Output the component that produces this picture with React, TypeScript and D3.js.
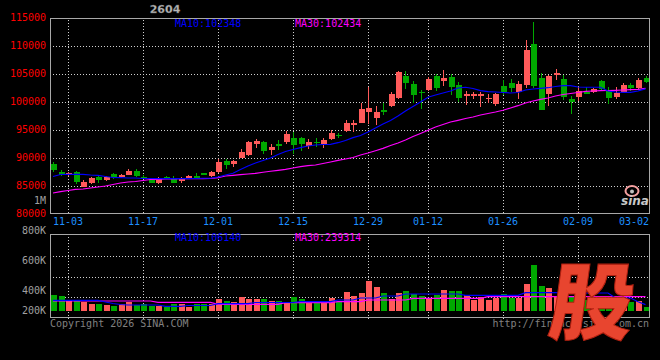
import React from "react";
import * as d3 from "d3";

const dates = [
  "10-30","10-31",
  "11-03","11-04","11-05","11-06","11-07","11-10","11-11","11-12","11-13","11-14",
  "11-17","11-18","11-19","11-20","11-21","11-24","11-25","11-26","11-27","11-28",
  "12-01","12-02","12-03","12-04","12-05","12-08","12-09","12-10","12-11","12-12",
  "12-15","12-16","12-17","12-18","12-19","12-22","12-23","12-24","12-25","12-26",
  "12-29","12-30","12-31",
  "01-05","01-06","01-07","01-08","01-09","01-12","01-13","01-14","01-15","01-16",
  "01-19","01-20","01-21","01-22","01-23","01-26","01-27","01-28","01-29","01-30",
  "02-02","02-03","02-04","02-05","02-06","02-09","02-10","02-11","02-12","02-13",
  "02-24","02-25","02-26","02-27","03-02"
];

const open = [88930,87500,87090,87500,84820,85480,86550,86070,87090,86550,86960,87730,86660,86300,85590,86660,86300,85950,86300,86790,87270,86840,87500,89460,88980,90000,90540,92550,92860,91430,92500,92860,93630,93630,92200,92860,92450,93390,94160,94820,95890,96300,98210,97200,98520,99290,100710,104640,103210,101840,102140,104700,103800,104460,102980,101070,101070,101070,100590,99730,102860,103390,101790,103040,110360,104290,101430,104820,104110,100540,100890,101840,101730,103750,102230,100890,101840,103040,102550,104340];
const high = [89290,87860,87450,87680,86070,86610,86790,86790,87270,87200,87980,88090,86960,86430,86660,86840,86790,86550,87020,87270,87380,87730,89770,89880,89590,91610,93040,93390,93040,92450,93210,94820,94590,93750,93390,93630,93520,95000,94520,96790,96730,99880,102730,99290,99880,101840,105540,105540,103800,102140,104520,104950,105710,105000,103520,101960,101790,101790,101380,101660,103930,104050,103750,111070,114230,105130,104820,105890,104820,101070,102680,102630,102550,103930,102680,102730,103340,103450,104340,104700];
const low = [87500,86790,86790,85360,84820,85360,85590,85950,86250,86430,86910,86660,86200,85480,85360,86300,85480,85590,86200,86200,86910,86610,87270,88090,88390,89950,90360,91730,90770,90540,91430,92550,90660,91250,91610,91960,91840,93270,93630,94700,94700,96200,96070,95890,97680,99160,100590,102380,99880,98800,102020,102020,102860,101200,100000,99460,100540,99160,99770,99290,101250,101730,100540,102500,102450,98570,99340,103880,100410,97860,100180,101380,101550,102140,99590,100540,101550,101960,102320,103340];
const close = [87860,86960,87320,85710,85710,86480,86070,86660,86610,87020,87730,86790,86430,85590,86300,86480,85590,86300,86730,86300,86960,87550,89340,88750,89410,91070,92860,93040,91250,92020,92200,94290,92320,92450,92910,92680,93270,94460,93930,96250,96250,98750,98930,98210,98210,101430,105360,103450,101200,101550,104110,102500,104290,102680,100800,101380,101380,101430,100800,101430,101840,102500,103160,109290,102860,98570,104640,105180,100950,100050,101880,101480,102320,102320,100630,101610,103040,102450,103930,103570];
const volume = [267200,250500,172000,183700,155300,116900,116900,100200,83500,116900,155300,100200,116900,83500,83500,71800,116900,116900,71800,116900,116900,116900,200400,167000,155300,233800,200400,200400,200400,167000,167000,155300,233800,200400,155300,155300,155300,217100,155300,317300,250500,300600,501000,400800,300600,200400,300600,334000,283900,250500,200400,262200,350700,334000,334000,267200,183700,233800,183700,217100,283900,217100,217100,450900,768200,417500,384100,250500,238800,250500,217100,183700,183700,250500,217100,183700,217100,150300,167000,71800];

const ma10 = [86700,87050,87090,87090,87090,86960,86880,86700,86520,86480,86430,86430,86340,86340,86300,86300,86300,86300,86300,86340,86380,86380,86610,86960,87270,87950,88570,89110,89550,90000,90630,91160,91520,91840,92140,92320,92410,92450,92730,93130,93630,94020,94640,95360,96070,96700,97500,98390,99200,100000,100840,101250,101610,101960,102500,102630,102410,102020,101840,101790,101700,101610,101700,102140,102320,102450,102550,102770,102910,102910,102680,102630,102630,102630,101960,101790,101730,101730,101960,102348];
const ma30 = [83750,83980,84200,84380,84460,84640,84820,85000,85270,85540,85710,85800,85980,86160,86200,86250,86290,86300,86300,86300,86300,86340,86480,86790,86910,87020,87140,87270,87450,87630,87800,87980,88210,88450,88630,88750,89020,89290,89590,89820,90090,90540,90890,91300,91730,92230,92680,93210,93840,94380,94950,95540,95980,96430,96730,97050,97320,97680,97950,98210,98520,98930,99340,99820,100180,100480,100710,101070,101340,101520,101700,101880,101960,102020,102050,102090,102140,102200,102270,102434];
const volMa10 = [178700,178700,178700,178700,178700,178700,178700,150000,125000,108600,100200,100200,100200,100200,100200,78500,78500,78500,91900,91900,91900,91900,121900,121900,121900,121900,121900,142000,142000,142000,142000,142000,142000,155300,155300,155300,155300,155300,183700,183700,183700,217100,217100,217100,250500,250500,250500,283900,283900,283900,283900,283900,283900,283900,283900,262200,262200,262200,262200,262200,262200,262200,262200,305600,305600,305600,305600,305600,300600,300600,300600,300600,300600,300600,300600,217100,217100,217100,155300,106140];
const volMa30 = [167000,167000,167000,167000,167000,167000,167000,167000,167000,167000,167000,167000,167000,167000,145300,145300,145300,145300,145300,145300,145300,145300,111900,111900,111900,111900,111900,111900,111900,111900,111900,138600,138600,138600,138600,138600,138600,138600,155300,155300,155300,155300,183700,183700,183700,183700,183700,183700,212100,212100,212100,212100,212100,212100,212100,212100,212100,212100,238800,238800,238800,238800,238800,238800,238800,238800,238800,238800,238800,238800,238800,238800,238800,238800,238800,238800,238800,238800,238800,239314];

const priceTicks = [115000,110000,105000,100000,95000,90000,85000,80000];
const volTicks = [1000000,800000,600000,400000,200000];
const volTickLabels = ["1M","800K","600K","400K","200K"];
const dateTicks = ["11-03","11-17","12-01","12-15","12-29","01-12","01-26","02-09","03-02"];

const MAIN = { left: 50, right: 649, top: 18, bottom: 214 };
const VOL = { top: 235, bottom: 318, base: 311 };
const FONT = "'DejaVu Sans Mono', 'Liberation Mono', monospace";
const RED = "#ff5a5a";
const GREEN = "#00a800";
const GRID = "#d0d0d0";
const BORDER = "#a8a8a8";

export default function App() {
  const n = dates.length;
  const x = d3.scaleLinear().domain([0, n - 1]).range([53, 645.5]);
  const y = d3.scaleLinear().domain([80000, 115000]).range([MAIN.bottom, MAIN.top]);
  const yv = d3.scaleLinear().domain([0, 1000000]).range([VOL.base, VOL.base - 1000000 / 16700]);
  const volLabelY = d3.scaleLinear().domain([1000000, 400000]).range([200, 290.7]);

  const lineP = d3.line<number>().x((_, i) => x(i)).y((d) => y(d));
  const lineV = d3.line<number>().x((_, i) => x(i)).y((d) => yv(d));

  const tickIdx = dateTicks.map((t) => dates.indexOf(t));
  const labelW = 5 * 6.02;
  const tickInfo = tickIdx.map((i, k) => {
    let cx = x(i);
    cx = Math.max(MAIN.left + labelW / 2, Math.min(MAIN.right - labelW / 2, cx));
    return { cx, label: dateTicks[k], grid: k < dateTicks.length - 1 };
  });

  const volGrid = d3.range(1, 4).map((k) => VOL.top + (k * (VOL.bottom - VOL.top)) / 4);

  const up = (i: number) => close[i] >= open[i];
  const bw = 6;

  return (
    <svg width={660} height={360} style={{ position: "absolute", left: 0, top: 0, background: "#000" }}>
      <rect x={0} y={0} width={660} height={360} fill="#000" />
      {/* title */}
      <text x={165} y={13} textAnchor="middle" fontFamily="'DejaVu Sans', sans-serif" fontWeight="bold" fontSize={11} fill="#b8b8b8" stroke="#606060" strokeWidth={0.3}>2604</text>

      {/* main grid */}
      <g shapeRendering="crispEdges">
        {priceTicks.filter((v) => v > 80000 && v < 115000).map((v) => (
          <line key={v} x1={MAIN.left} x2={MAIN.right} y1={Math.round(y(v)) + 0.5} y2={Math.round(y(v)) + 0.5} stroke={GRID} strokeDasharray="1,2" />
        ))}
        {tickInfo.filter((t) => t.grid).map((t) => (
          <line key={t.label} x1={Math.round(t.cx) + 0.5} x2={Math.round(t.cx) + 0.5} y1={MAIN.top + 2} y2={MAIN.bottom} stroke={GRID} strokeDasharray="1,2" />
        ))}
        {volGrid.map((g) => (
          <line key={g} x1={MAIN.left} x2={MAIN.right} y1={Math.round(g) + 0.5} y2={Math.round(g) + 0.5} stroke={GRID} strokeDasharray="1,2" />
        ))}
        {tickInfo.filter((t) => t.grid).map((t) => (
          <line key={"v" + t.label} x1={Math.round(t.cx) + 0.5} x2={Math.round(t.cx) + 0.5} y1={VOL.top + 2} y2={VOL.bottom + 3} stroke={GRID} strokeDasharray="1,2" />
        ))}
      </g>

      {/* candles */}
      <g shapeRendering="crispEdges">
        {dates.map((d, i) => {
          const cx = Math.round(x(i));
          const c = up(i) ? RED : GREEN;
          const top = y(Math.max(open[i], close[i]));
          const bot = y(Math.min(open[i], close[i]));
          return (
            <g key={d}>
              <line x1={cx + 0.5} x2={cx + 0.5} y1={y(high[i])} y2={y(low[i])} stroke={c} />
              <rect x={cx - bw / 2 + 0.5} y={top} width={bw} height={Math.max(1.2, bot - top)} fill={c} />
            </g>
          );
        })}
      </g>
      <path d={lineP(ma30) || ""} fill="none" stroke="#ff00ff" strokeWidth={1.2} />
      <path d={lineP(ma10) || ""} fill="none" stroke="#0000ff" strokeWidth={1.2} />

      {/* volume bars */}
      <g shapeRendering="crispEdges">
        {dates.map((d, i) => {
          const cx = Math.round(x(i));
          return <rect key={d} x={cx - bw / 2 + 0.5} y={yv(volume[i])} width={bw} height={VOL.base - yv(volume[i])} fill={up(i) ? RED : GREEN} />;
        })}
      </g>
      <path d={lineV(volMa30) || ""} fill="none" stroke="#ff00ff" strokeWidth={1.2} />
      <path d={lineV(volMa10) || ""} fill="none" stroke="#0000ff" strokeWidth={1.2} />

      {/* frames */}
      <g shapeRendering="crispEdges" fill="none" stroke={BORDER}>
        <rect x={MAIN.left + 0.5} y={MAIN.top + 0.5} width={MAIN.right - MAIN.left} height={MAIN.bottom - MAIN.top - 1} />
        <rect x={MAIN.left + 0.5} y={VOL.top - 0.5} width={MAIN.right - MAIN.left} height={VOL.bottom - VOL.top} />
      </g>

      {/* legends */}
      <g fontFamily={FONT} fontSize={10}>
        <text x={175} y={27} fill="#0000ff">MA10:{ma10[n - 1]}</text>
        <text x={295} y={27} fill="#ff00ff">MA30:{ma30[n - 1]}</text>
        <text x={175} y={241} fill="#0000ff">MA10:{volMa10[n - 1]}</text>
        <text x={295} y={241} fill="#ff00ff">MA30:{volMa30[n - 1]}</text>
      </g>

      {/* price labels */}
      <g fontFamily={FONT} fontSize={10} textAnchor="end">
        {priceTicks.map((v) => (
          <text key={v} x={46} y={y(v) + 2.5} fill="#ff0000">{v}</text>
        ))}
        {volTicks.map((v, k) => (
          <text key={v} x={46} y={Math.min(volLabelY(v), 310.7) + 3.6} fill="#a0a0a0">{volTickLabels[k]}</text>
        ))}
      </g>

      {/* date labels */}
      <g fontFamily={FONT} fontSize={10} textAnchor="middle" fill="#1e90ff">
        {tickInfo.map((t) => (
          <text key={t.label} x={t.cx} y={225}>{t.label}</text>
        ))}
      </g>

      {/* sina mark */}
      <g>
        <ellipse cx={632} cy={191} rx={6.5} ry={5} fill="none" stroke="#f4a0a0" strokeWidth={2} />
        <circle cx={632} cy={191.5} r={2} fill="#c0c0c0" />
        <text x={635} y={205} textAnchor="middle" fontFamily="'DejaVu Sans', sans-serif" fontStyle="italic" fontWeight="bold" fontSize={12} fill="#c8c8c8">sina</text>
      </g>

      {/* footer */}
      <g fontFamily={FONT} fontSize={10} fill="#808080">
        <text x={50} y={327}>Copyright 2026 SINA.COM</text>
        <text x={649} y={327} textAnchor="end">http://finance.sina.com.cn</text>
      </g>

      {/* big logo */}
      <text x={593} y={333} textAnchor="middle" fontFamily="'Noto Sans CJK SC', sans-serif" fontWeight="900" fontSize={84} fill="#e8452f" stroke="#b02010" strokeWidth={1} transform="translate(593,0) skewX(-8) translate(-593,0)" transform-origin="593 300">股</text>
    </svg>
  );
}
